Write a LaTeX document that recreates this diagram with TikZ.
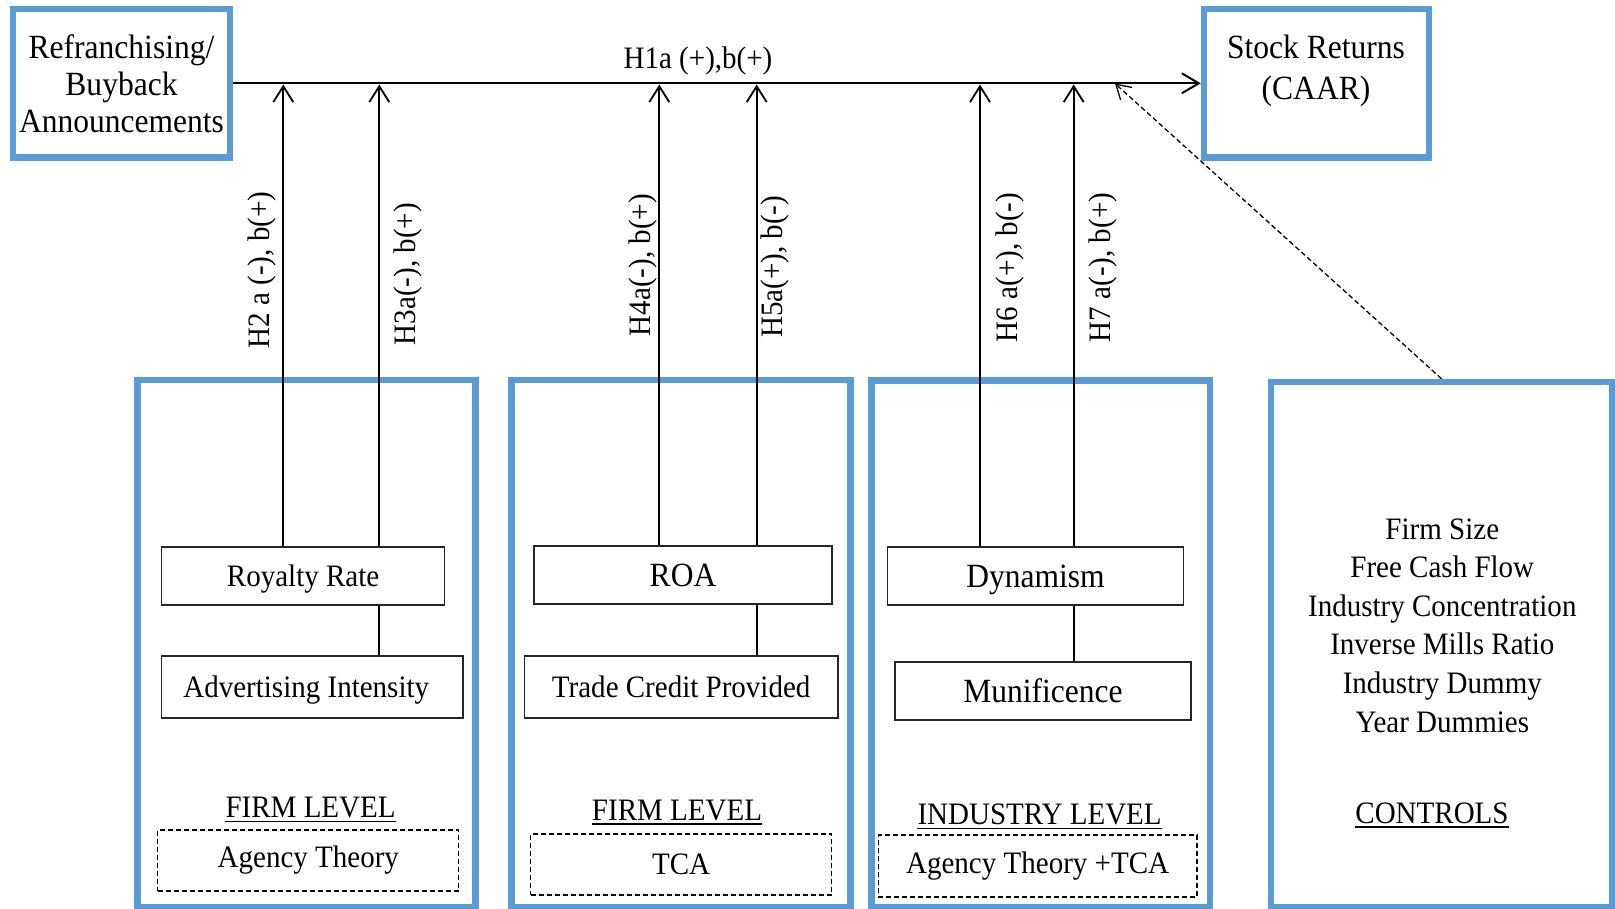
\documentclass[tikz,border=0pt]{standalone}
\usepackage{fontspec}
\setmainfont[FakeStretch=0.93]{Liberation Serif}
\usetikzlibrary{arrows.meta}
\definecolor{boxblue}{HTML}{5B9BD5}
\begin{document}
\begin{tikzpicture}[x=1pt,y=-1pt,
  normal/.style={font=\fontsize{31.2}{35}\selectfont},
  large/.style={font=\fontsize{33.9}{37}\selectfont},
  bluebox/.style={draw=boxblue,line width=6.5pt,inner sep=0pt},
  varbox/.style={draw=black!85,line width=1.5pt,fill=white,inner sep=0pt,normal},
  theorybox/.style={draw=black,dash pattern=on 5pt off 3pt,line width=1.3pt,inner sep=0pt,normal},
  txt/.style={inner sep=0pt,normal},
  hyp/.style={inner sep=0pt,normal,rotate=90},
  link/.style={line width=1.8pt},
  arr/.style={line width=1.8pt,-{Straight Barb[length=16pt,width=20pt]}},
  mainarr/.style={line width=2pt,-{Straight Barb[length=17pt,width=20pt]}},
  dasharr/.style={line width=1.3pt,dash pattern=on 5pt off 3pt,-{Straight Barb[length=14pt,width=17pt]}},
  uline/.style={line width=1.8pt}]
\useasboundingbox (0,0) rectangle (1615,909);

% top boxes
\node[bluebox,large,align=center,minimum width=217pt,minimum height=148.5pt] (src) at (121.5,83.3)
  {Refranchising/\\Buyback\\Announcements};
\node[bluebox,minimum width=225pt,minimum height=148.5pt] (stock) at (1316.5,83.3) {};
\node[txt,large,anchor=base] (sr1) at (1316,58.3) {Stock Returns};
\node[txt,large,anchor=base] (sr2) at (1316,100) {(CAAR)};

% group boxes
\node[bluebox,minimum width=338pt,minimum height=527pt] (g1) at (306.5,643.5) {};
\node[bluebox,minimum width=339pt,minimum height=527pt] (g2) at (681,643.5) {};
\node[bluebox,minimum width=338.5pt,minimum height=526.5pt] (g3) at (1040.75,643.75) {};
\node[bluebox,minimum width=341pt,minimum height=525pt] (g4) at (1441.5,644.5) {};

% variable boxes
\node[varbox,text depth=0pt,minimum width=283pt,minimum height=58pt] (rr) at (303.1,576) {Royalty Rate};
\node[varbox,text depth=0pt,minimum width=301.5pt,minimum height=62pt] (ai) at (312.25,687) {Advertising Intensity\hspace*{12pt}};
\node[varbox,large,minimum width=298pt,minimum height=58pt] (roa) at (683,575) {ROA};
\node[varbox,minimum width=313.6pt,minimum height=62pt] (tc) at (681.2,687) {Trade Credit Provided};
\node[varbox,large,text depth=0pt,minimum width=296pt,minimum height=58pt] (dyn) at (1035.5,576) {Dynamism};
\node[varbox,large,minimum width=296pt,minimum height=58pt] (mun) at (1043,691) {Munificence};

% theory boxes
\node[theorybox,minimum width=301pt,minimum height=61pt] (d1) at (308.3,860.5) {Agency Theory};
\node[theorybox,minimum width=301pt,minimum height=61pt] (d2) at (681.1,864.5) {TCA};
\node[theorybox,minimum width=318.7pt,minimum height=62pt] (d3) at (1037.6,866) {Agency Theory +TCA};

% level labels
\node[txt,anchor=base] (fl1) at (310.6,817.5) {FIRM LEVEL};
\node[txt,anchor=base] (fl2) at (677,820) {FIRM LEVEL};
\node[txt,anchor=base] (il) at (1039.6,824.5) {INDUSTRY LEVEL};
\node[txt,anchor=base] (ctl) at (1432,823) {CONTROLS};
\foreach \n in {fl1,fl2,il,ctl}
  \draw[uline] ([yshift=-4pt]\n.base west) -- ([yshift=-4pt]\n.base east);

% controls list
\node[txt,anchor=base] (c1) at (1442.3,539) {Firm Size};
\node[txt,anchor=base] (c2) at (1442.3,577.6) {Free Cash Flow};
\node[txt,anchor=base] (c3) at (1442.3,616.2) {Industry Concentration};
\node[txt,anchor=base] (c4) at (1442.3,654.8) {Inverse Mills Ratio};
\node[txt,anchor=base] (c5) at (1442.3,693.4) {Industry Dummy};
\node[txt,anchor=base] (c6) at (1442.3,732) {Year Dummies};

% main arrow
\draw[mainarr] (src.east) -- (stock.west);
\node[txt,anchor=base] (h1) at (698,69) {H1a (+),b(+)};

% arrow end points on the main line
\coordinate (t1) at (283.3,84.5);
\coordinate (t2) at (379.3,84.5);
\coordinate (t3) at (659.3,84.5);
\coordinate (t4) at (756.7,84.5);
\coordinate (t5) at (980,84.5);
\coordinate (t6) at (1073.7,84.5);
\coordinate (t7) at (1115,83.5);

\draw[arr] (rr.north -| t1) -- (t1);
\draw[link] (ai.north -| t2) -- (rr.south -| t2);
\draw[arr] (rr.north -| t2) -- (t2);
\draw[arr] (roa.north -| t3) -- (t3);
\draw[link] (tc.north -| t4) -- (roa.south -| t4);
\draw[arr] (roa.north -| t4) -- (t4);
\draw[arr] (dyn.north -| t5) -- (t5);
\draw[link] (mun.north -| t6) -- (dyn.south -| t6);
\draw[arr] (dyn.north -| t6) -- (t6);
\draw[dasharr] (g4.north) -- (t7);

% hypothesis labels
\node[hyp] (h2) at (261.7,270) {H2 a (-), b(+)};
\node[hyp] (h3) at (408.3,274.2) {H3a(-), b(+)};
\node[hyp] (h4) at (643.3,265) {H4a(-), b(+)};
\node[hyp] (h5) at (775,266.7) {H5a(+), b(-)};
\node[hyp] (h6) at (1010,267.5) {H6 a(+), b(-)};
\node[hyp] (h7) at (1103,267.5) {H7 a(-), b(+)};
\end{tikzpicture}
\end{document}
